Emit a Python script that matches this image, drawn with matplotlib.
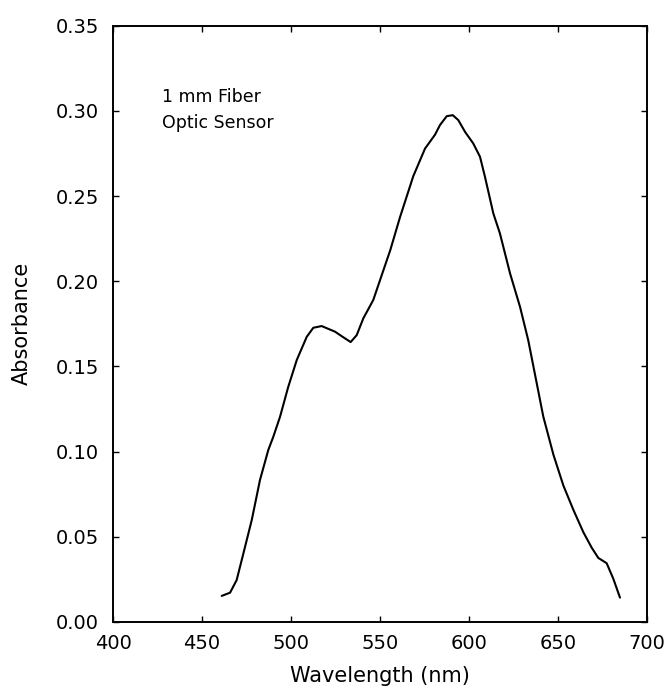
import matplotlib
matplotlib.use("Agg")
import matplotlib.pyplot as plt

# absorbance spectrum
wavelength = [461.1, 465.8, 469.5, 473.3, 478.0, 482.6, 487.3, 490.1, 493.9,
              498.5, 503.3, 508.9, 512.6, 517.3, 524.8, 529.5, 533.6, 537.0,
              540.7, 546.3, 555.9, 561.3, 568.8, 575.4, 581.0, 583.8, 587.6,
              591.0, 594.1, 597.9, 602.5, 606.3, 609.1, 613.8, 617.5, 623.2,
              628.8, 633.4, 638.2, 641.9, 647.6, 653.2, 658.8, 664.4, 669.1,
              672.8, 677.5, 681.2, 685.0]
absorbance = [0.0153, 0.0172, 0.0246, 0.0403, 0.0599, 0.0833, 0.1010, 0.1087,
              0.1205, 0.1380, 0.1538, 0.1674, 0.1727, 0.1737, 0.1704, 0.1671,
              0.1643, 0.1684, 0.1782, 0.1890, 0.2184, 0.2375, 0.2617, 0.2779,
              0.2860, 0.2917, 0.2969, 0.2975, 0.2946, 0.2877, 0.2809, 0.2731,
              0.2613, 0.2398, 0.2281, 0.2046, 0.1850, 0.1655, 0.1401, 0.1205,
              0.0981, 0.0800, 0.0658, 0.0527, 0.0436, 0.0376, 0.0345, 0.0255,
              0.0143]

x_ticks = [400, 450, 500, 550, 600, 650, 700]
y_ticks = [0.00, 0.05, 0.10, 0.15, 0.20, 0.25, 0.30, 0.35]

plt.rcParams["font.family"] = "DejaVu Sans"

fig = plt.figure(figsize=(6.72, 6.99), dpi=100)
ax = fig.add_axes([0.1682, 0.1102, 0.9623 - 0.1682, 0.9632 - 0.1102])

ax.plot(wavelength, absorbance, "-", color="black", lw=1.5,
        solid_joinstyle="round", solid_capstyle="round")

ax.set_xlim(400, 700)
ax.set_ylim(0, 0.35)
ax.set_xticks(x_ticks)
ax.set_yticks(y_ticks)
ax.set_yticklabels([f"{v:.2f}" for v in y_ticks])
ax.tick_params(direction="in", length=4, width=1.0, top=True, right=True,
               labelsize=14, colors="black")
ax.tick_params(axis="x", pad=9)
ax.tick_params(axis="y", pad=10)
for spine in ax.spines.values():
    spine.set_linewidth(1.4)

ax.set_xlabel("Wavelength (nm)", fontsize=15, labelpad=9)
ax.set_ylabel("Absorbance", fontsize=15, labelpad=17)

ax.text(427.5, 0.3135, "1 mm Fiber\nOptic Sensor", fontsize=12.5,
        ha="left", va="top", linespacing=1.6)

fig.savefig("out.png", dpi=100)
